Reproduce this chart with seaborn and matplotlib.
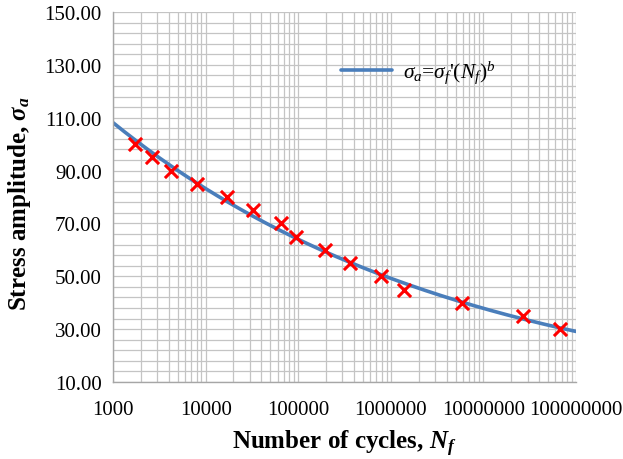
import numpy as np
import pandas as pd
import seaborn as sns
import matplotlib.pyplot as plt
from matplotlib.ticker import LogLocator, FixedLocator, FuncFormatter

# cycles to failure and stress amplitude
cycles = [1730, 2660, 4230, 8020, 16900, 32700, 65200, 95600,
          194000, 363000, 783000, 1400000, 5820000, 26500000, 67100000]
stress = [100, 95, 90, 85, 80, 75, 70, 65, 60, 55, 50, 45, 40, 35, 30]

y_ticks = [10, 30, 50, 70, 90, 110, 130, 150]

df = pd.DataFrame({"N": cycles, "S": stress})

# Basquin fit  sigma_a = sigma_f' * N^b  (straight line in log-log)
b, log_sf = np.polyfit(np.log10(df.N), np.log10(df.S), 1)
fit_n = np.logspace(3, 8, 200)
fit = pd.DataFrame({"N": fit_n, "S": 10 ** log_sf * fit_n ** b})

sns.set_style("white")
plt.rcParams["font.family"] = ["Liberation Serif", "DejaVu Serif"]
plt.rcParams["text.color"] = "black"
plt.rcParams["axes.labelcolor"] = "black"
plt.rcParams["xtick.color"] = "black"
plt.rcParams["ytick.color"] = "black"
plt.rcParams["mathtext.fontset"] = "custom"
plt.rcParams["mathtext.rm"] = "Liberation Serif"
plt.rcParams["mathtext.it"] = "Liberation Serif:italic"
plt.rcParams["mathtext.bf"] = "Liberation Serif:bold:italic"

fig = plt.figure(figsize=(6.23, 4.60), dpi=100)
ax = fig.add_axes([0.1814, 0.1674, 0.7432, 0.8043])

sns.lineplot(data=fit, x="N", y="S", ax=ax, color="#4a7ebb", linewidth=2.6,
             label=r"$\sigma_a$=$\sigma_f$'$(N_f)^b$")
sns.scatterplot(data=df, x="N", y="S", ax=ax, marker="x", color="red",
                s=90, linewidth=2.2, zorder=3, legend=False)

ax.set_xscale("log")
ax.set_xlim(1e3, 1e8)
ax.set_ylim(10, 150)
ax.xaxis.set_major_locator(FixedLocator([10 ** k for k in range(3, 9)]))
ax.xaxis.set_minor_locator(LogLocator(base=10, subs=np.arange(2, 10)))
ax.xaxis.set_minor_formatter(FuncFormatter(lambda v, p: ""))
ax.xaxis.set_major_formatter(FuncFormatter(lambda v, p: f"{int(round(v))}"))
ax.yaxis.set_major_locator(FixedLocator(y_ticks))
ax.yaxis.set_minor_locator(FixedLocator(np.arange(10, 151, 4)))
ax.yaxis.set_major_formatter(FuncFormatter(lambda v, p: f"{v:.2f}"))

ax.grid(True, which="both", color="#c4c4c4", linewidth=0.9)
ax.set_axisbelow(True)
for side in ["top", "right"]:
    ax.spines[side].set_visible(False)
for side in ["left", "bottom"]:
    ax.spines[side].set_color("#a6a6a6")
    ax.spines[side].set_linewidth(1.0)
ax.tick_params(axis="both", which="major", labelsize=15, length=5,
               color="#a6a6a6", labelcolor="black", direction="out", pad=3)
ax.tick_params(axis="both", which="minor", length=0)
ax.tick_params(axis="x", pad=8)

ax.set_xlabel(r"Number of cycles, $\mathbf{N_f}$", fontsize=18,
              fontweight="bold")
ax.set_ylabel(r"Stress amplitude, $\mathbf{\sigma_a}$", fontsize=18,
              fontweight="bold")
ax.xaxis.set_label_coords(0.5, -0.125)
ax.yaxis.set_label_coords(-0.173, 0.485)

ax.legend(loc="center left", bbox_to_anchor=(0.45, 0.838), frameon=False,
          fontsize=15.5, handlelength=2.4, handletextpad=0.5)

fig.savefig("out.png", dpi=100)
